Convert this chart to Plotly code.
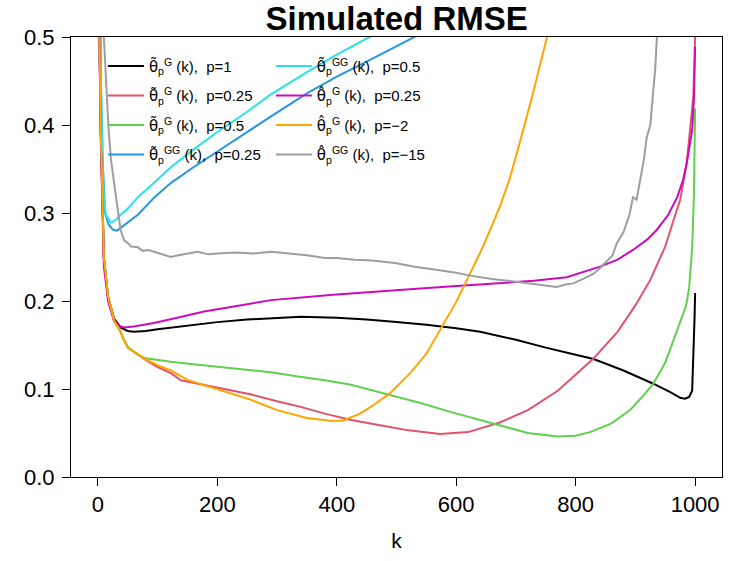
import plotly.graph_objects as go

# RMSE curves (k = number of top order statistics)
k_black = [1, 3, 5, 8, 10, 17, 27, 38, 50, 60, 80, 100, 150, 200, 250, 300, 340, 400, 450, 500, 550,
           600, 640, 700, 750, 800, 830, 880, 930, 960, 975, 983, 990, 995, 997, 999, 1000]
rmse_black = [0.8, 0.48, 0.39, 0.31, 0.25, 0.205, 0.18, 0.17, 0.166, 0.165, 0.166, 0.168, 0.172, 0.176,
              0.179, 0.181, 0.182, 0.181, 0.179, 0.176, 0.173, 0.169, 0.165, 0.156, 0.147, 0.139, 0.134,
              0.121, 0.106, 0.096, 0.090, 0.089, 0.091, 0.098, 0.13, 0.18, 0.209]

k_red = [1, 3, 5, 8, 10, 17, 27, 38, 42, 50, 60, 80, 100, 122, 139, 200, 255, 300, 338, 380, 422, 470,
         520, 573, 620, 673, 720, 770, 829, 870, 900, 925, 950, 963, 975, 986, 993, 997, 1000]
rmse_red = [0.8, 0.48, 0.39, 0.31, 0.25, 0.205, 0.178, 0.165, 0.158, 0.147, 0.142, 0.133, 0.125, 0.118,
            0.110, 0.102, 0.094, 0.086, 0.080, 0.072, 0.065, 0.059, 0.053, 0.049, 0.051, 0.062, 0.076,
            0.098, 0.134, 0.165, 0.195, 0.224, 0.262, 0.29, 0.315, 0.357, 0.40, 0.432, 0.50]

k_green = [1, 3, 5, 8, 10, 17, 27, 38, 42, 50, 66, 80, 100, 122, 160, 206, 255, 290, 338, 380, 422, 489,
           540, 590, 640, 673, 720, 769, 800, 824, 860, 891, 910, 930, 950, 970, 985, 990, 995, 998, 1000]
rmse_green = [0.8, 0.48, 0.39, 0.31, 0.25, 0.205, 0.178, 0.165, 0.158, 0.148, 0.139, 0.135, 0.133, 0.131,
              0.128, 0.125, 0.122, 0.119, 0.114, 0.110, 0.105, 0.093, 0.084, 0.074, 0.065, 0.059, 0.050,
              0.046, 0.047, 0.051, 0.061, 0.076, 0.09, 0.106, 0.13, 0.167, 0.195, 0.215, 0.26, 0.32, 0.419]

k_blue = [1, 3, 5, 8, 12, 18, 25, 32, 38, 50, 67, 95, 122, 160, 200, 250, 288, 350, 400, 450, 500, 531, 550]
rmse_blue = [0.9, 0.6, 0.45, 0.36, 0.30, 0.287, 0.281, 0.280, 0.283, 0.289, 0.298, 0.318, 0.334, 0.352,
             0.370, 0.392, 0.409, 0.436, 0.455, 0.472, 0.489, 0.50, 0.507]

k_cyan = [1, 3, 5, 8, 10, 13, 22, 30, 38, 50, 67, 95, 122, 160, 200, 250, 288, 350, 400, 455, 470]
rmse_cyan = [0.9, 0.6, 0.45, 0.36, 0.32, 0.298, 0.289, 0.292, 0.298, 0.305, 0.318, 0.335, 0.352, 0.372,
             0.392, 0.415, 0.434, 0.46, 0.48, 0.50, 0.505]

k_magenta = [1, 3, 5, 8, 10, 17, 27, 38, 44, 60, 94, 140, 178, 230, 290, 394, 450, 534, 600, 673, 730,
             785, 841, 870, 896, 920, 936, 955, 970, 980, 986, 995, 998, 1000]
rmse_magenta = [0.8, 0.47, 0.38, 0.30, 0.24, 0.20, 0.177, 0.171, 0.170, 0.171, 0.175, 0.182, 0.188, 0.194,
                0.201, 0.207, 0.210, 0.214, 0.217, 0.220, 0.223, 0.227, 0.239, 0.247, 0.258, 0.270, 0.281,
                0.298, 0.318, 0.338, 0.357, 0.394, 0.43, 0.489]

k_orange = [1, 3, 5, 8, 10, 17, 27, 38, 42, 50, 80, 100, 122, 151, 200, 255, 300, 350, 389, 410, 439, 460,
            489, 523, 550, 573, 600, 618, 645, 673, 690, 712, 730, 752, 760]
rmse_orange = [0.8, 0.48, 0.39, 0.31, 0.25, 0.205, 0.178, 0.165, 0.158, 0.147, 0.134, 0.127, 0.121, 0.110,
               0.100, 0.088, 0.076, 0.067, 0.064, 0.064, 0.072, 0.081, 0.095, 0.118, 0.140, 0.167, 0.199,
               0.224, 0.262, 0.307, 0.34, 0.394, 0.44, 0.50, 0.52]

k_gray = [1, 5, 10, 14, 18, 22, 27, 32, 38, 44, 50, 56, 67, 75, 85, 94, 105, 122, 135, 150, 167, 185, 200,
          230, 260, 290, 320, 350, 380, 400, 430, 460, 500, 530, 560, 600, 630, 660, 700, 720, 750, 768,
          785, 796, 815, 830, 841, 855, 862, 869, 880, 886, 890, 896, 902, 908, 914, 919, 925, 930, 933,
          936, 940]
rmse_gray = [1.2, 0.7, 0.5, 0.44, 0.394, 0.36, 0.3375, 0.31, 0.281, 0.269, 0.266, 0.262, 0.261, 0.257,
             0.258, 0.256, 0.253, 0.250, 0.252, 0.254, 0.256, 0.253, 0.254, 0.255, 0.254, 0.256, 0.254,
             0.252, 0.249, 0.249, 0.247, 0.246, 0.243, 0.239, 0.236, 0.232, 0.228, 0.225, 0.222, 0.220,
             0.217, 0.216, 0.219, 0.220, 0.226, 0.231, 0.2375, 0.247, 0.252, 0.266, 0.278, 0.29, 0.298,
             0.318, 0.315, 0.3375, 0.36, 0.386, 0.40, 0.44, 0.462, 0.5, 0.55]

# theta with tilde / hat drawn in DejaVu, which places combining marks properly
TT = '<span style="font-family:DejaVu Sans">θ̃</span>'
TH = '<span style="font-family:DejaVu Sans">θ̂</span>'

series = [
    (k_black, rmse_black, "#000000", TT + "<sub>p</sub><sup>G</sup> (k),  p=1", "legend"),
    (k_red, rmse_red, "#DF536B", TT + "<sub>p</sub><sup>G</sup> (k),  p=0.25", "legend"),
    (k_green, rmse_green, "#61D04F", TT + "<sub>p</sub><sup>G</sup> (k),  p=0.5", "legend"),
    (k_blue, rmse_blue, "#2297E6", TT + "<sub>p</sub><sup>GG</sup> (k),  p=0.25", "legend"),
    (k_cyan, rmse_cyan, "#28E2E5", TT + "<sub>p</sub><sup>GG</sup> (k),  p=0.5", "legend2"),
    (k_magenta, rmse_magenta, "#CD0BBC", TH + "<sub>p</sub><sup>G</sup> (k),  p=0.25", "legend2"),
    (k_orange, rmse_orange, "#FFA500", TH + "<sub>p</sub><sup>G</sup> (k),  p=−2", "legend2"),
    (k_gray, rmse_gray, "#9E9E9E", TH + "<sub>p</sub><sup>GG</sup> (k),  p=−15", "legend2"),
]

fig = go.Figure()
for i, (kk, vals, col, name, leg) in enumerate(series):
    fig.add_trace(go.Scatter(x=kk, y=vals, mode="lines", name=name, legend=leg,
                             legendgroup=str(i), line=dict(color=col, width=2)))

font = "Liberation Sans, Arial, sans-serif"
leg_style = dict(yanchor="top", y=0.971, bgcolor="rgba(0,0,0,0)", tracegroupgap=7, itemwidth=36,
                 font=dict(family=font, size=15, color="black"))

fig.update_layout(
    width=747, height=561,
    margin=dict(l=71, r=25, t=37, b=84),
    plot_bgcolor="white", paper_bgcolor="white",
    font=dict(family=font, color="black"),
    title=dict(text="<b>Simulated RMSE</b>", x=0.531, xanchor="center",
               y=0.968, yanchor="middle", font=dict(size=33, family=font)),
    legend=dict(x=0.049, xanchor="left", **leg_style),
    legend2=dict(x=0.307, xanchor="left", **leg_style),
    showlegend=True,
)
fig.update_xaxes(range=[-45, 1045], tickvals=[0, 200, 400, 600, 800, 1000], automargin=False,
                 ticks="outside", ticklen=8, tickcolor="black", showgrid=False, zeroline=False,
                 showline=True, mirror=True, linecolor="black", linewidth=1,
                 tickfont=dict(size=22), title=dict(text="k", font=dict(size=21), standoff=16))
fig.update_yaxes(range=[0, 0.5], tickvals=[0, 0.1, 0.2, 0.3, 0.4, 0.5], tickformat=".1f",
                 automargin=False, ticklabelstandoff=3,
                 ticks="outside", ticklen=8, tickcolor="black", showgrid=False, zeroline=False,
                 showline=True, mirror=True, linecolor="black", linewidth=1,
                 tickfont=dict(size=22))

fig.write_html("out.html", config={"displayModeBar": False},
               post_script="document.body.style.margin='0';")
